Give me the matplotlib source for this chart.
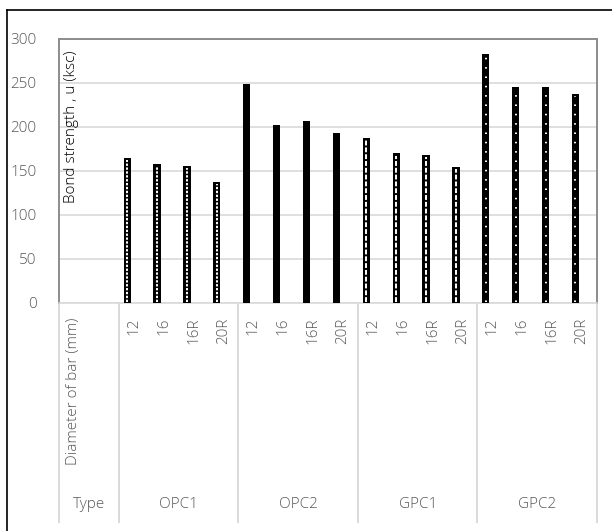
import matplotlib
matplotlib.use("Agg")
import matplotlib.pyplot as plt
from matplotlib.lines import Line2D

types = ["OPC1", "OPC2", "GPC1", "GPC2"]
diameters = ["12", "16", "16R", "20R"]
opc1 = [165, 158, 156, 138]
opc2 = [249, 202, 207, 193]
gpc1 = [188, 170, 168.5, 155]
gpc2 = [283, 246, 246, 238]
yticks = [0, 50, 100, 150, 200, 250, 300]

# white centre stripe per group (None = solid black)
patterns = [(0, (1.2, 0.8)), None, (0, (2.5, 1.0)), (0, (0.8, 4.0))]


def main():
    """main function"""
    plt.rcParams["font.family"] = ["Open Sans", "DejaVu Sans"]
    plt.rcParams["font.weight"] = "light"
    grey = "#595959"
    sep = "#d9d9d9"
    fs = 11

    fig = plt.figure(figsize=(6.12, 5.31), dpi=100)
    ax = fig.add_axes([59 / 612, 1 - 303 / 531, 538 / 612, 264 / 531])

    # outer frame (top and left only visible)
    fig.add_artist(Line2D([7 / 612, 1], [1 - 10 / 531, 1 - 10 / 531],
                          transform=fig.transFigure, color="black", lw=1.2))
    fig.add_artist(Line2D([7 / 612, 7 / 612], [0, 1 - 10 / 531],
                          transform=fig.transFigure, color="black", lw=1.2))

    groups = [opc1, opc2, gpc1, gpc2]
    width = 0.24
    offset = -0.22
    for g, vals in enumerate(groups):
        xs = [2 + 4 * g + i + offset for i in range(len(vals))]
        ax.bar(xs, vals, width=width, color="black", zorder=3)
        if patterns[g] is not None:
            for x, v in zip(xs, vals):
                ax.plot([x, x], [1.5, v - 3], color="white", lw=1.4,
                        linestyle=patterns[g], zorder=4)

    ax.set_xlim(-0.5, 17.5)
    ax.set_ylim(0, 300)
    ax.set_yticks(yticks)
    ax.set_yticklabels([str(t) for t in yticks], color=grey, fontsize=fs)
    ax.tick_params(axis="y", length=0, pad=16)
    ax.set_xticks([])
    ax.yaxis.grid(True, color=sep, lw=1.2, zorder=0)
    ax.set_axisbelow(True)
    for side in ["left", "top", "right"]:
        ax.spines[side].set_color("#8c8c8c")
        ax.spines[side].set_linewidth(1.4)
    ax.spines["bottom"].set_color(sep)
    ax.spines["bottom"].set_linewidth(1.2)

    ax.text(-0.07, 200, "Bond strength , u (ksc)", rotation=90,
            ha="center", va="center", fontsize=fs, color="black")

    # multi-level category axis
    tr = ax.get_xaxis_transform()
    for x in [-0.5, 1.5, 5.5, 9.5, 13.5, 17.5]:
        ax.plot([x, x], [0, -0.83], transform=tr, color=sep, lw=1.4,
                clip_on=False)
    ax.text(0, -0.055, "Diameter of bar (mm)", transform=tr, rotation=90,
            ha="center", va="top", fontsize=fs, color=grey)
    ax.text(0.5, -0.765, "Type", transform=tr, ha="center", va="center",
            fontsize=fs, color=grey)
    for g, name in enumerate(types):
        for i, d in enumerate(diameters):
            ax.text(2 + 4 * g + i, -0.055, d, transform=tr, rotation=90,
                    ha="center", va="top", fontsize=fs, color=grey)
        ax.text(3.5 + 4 * g, -0.765, name, transform=tr, ha="center",
                va="center", fontsize=fs, color=grey)

    fig.savefig("out.png", dpi=100)


if __name__ == "__main__":
    main()
